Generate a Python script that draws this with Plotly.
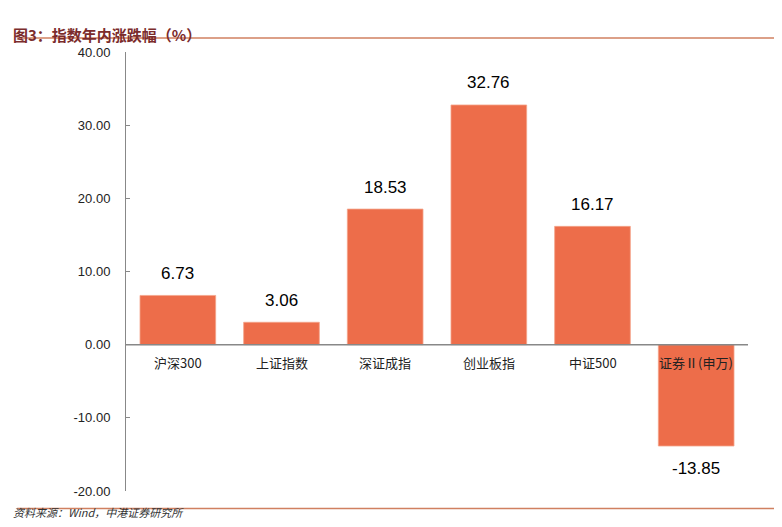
import plotly.graph_objects as go

categories = ["沪深300", "上证指数", "深证成指", "创业板指", "中证500", "证券Ⅱ(申万)"]
values = [6.73, 3.06, 18.53, 32.76, 16.17, -13.85]
y_ticks = [-20, -10, 0, 10, 20, 30, 40]

bar_color = "#ED6D4A"

fig = go.Figure()
fig.add_trace(go.Bar(
    x=categories, y=values, width=0.73,
    marker=dict(color=bar_color, line=dict(color="#F4A58A", width=0.8)),
    hoverinfo="x+y",
))

# value labels, offset from bar ends like the reference
for c, v in zip(categories, values):
    fig.add_annotation(x=c, y=v, text=f"{v:.2f}", showarrow=False,
                       yshift=22 if v >= 0 else -22,
                       font=dict(size=17, color="black", family="Liberation Sans"))

for c in categories:
    fig.add_annotation(x=c, y=0, text=c, showarrow=False, yshift=-18,
                       font=dict(size=13, color="#222", family="Noto Sans CJK SC"))

fig.add_shape(type="line", xref="paper", yref="y", x0=0, x1=1, y0=0, y1=0,
              line=dict(color="#888", width=1.5))

# title, source and separator lines
fig.add_annotation(xref="paper", yref="paper", x=-0.185, y=1.068, xanchor="left",
                   text="<b>图3：指数年内涨跌幅（%）</b>", showarrow=False,
                   font=dict(size=15, color="#7B2C2C", family="Noto Sans CJK SC"))
fig.add_annotation(xref="paper", yref="paper", x=-0.185, y=-0.07, xanchor="left",
                   text="<i>资料来源：Wind，中港证券研究所</i>", showarrow=False,
                   font=dict(size=11, color="#333", family="Noto Sans CJK SC"))
fig.add_shape(type="line", xref="paper", yref="paper", x0=-0.175, x1=1.045, y0=1.032, y1=1.032,
              line=dict(color="#D08060", width=1.5))
fig.add_shape(type="line", xref="paper", yref="paper", x0=-0.175, x1=1.045, y0=-0.04, y1=-0.04,
              line=dict(color="#D08060", width=1.5))

fig.update_layout(
    width=782, height=527, template="plotly_white",
    margin=dict(l=118, r=42, t=44, b=44, autoexpand=False),
    showlegend=False, bargap=0.27,
    plot_bgcolor="white", paper_bgcolor="white",
    xaxis=dict(showticklabels=False, showgrid=False, zeroline=False),
    yaxis=dict(range=[-20, 40], tickvals=y_ticks, ticktext=[f"{v:.2f}" for v in y_ticks],
               showgrid=False, zeroline=False, showline=True, linecolor="#888",
               ticks="inside", ticklen=4, tickcolor="#888", ticklabelstandoff=12,
               tickfont=dict(size=13, color="#222", family="Liberation Sans")),
)

fig.write_html("out.html")
